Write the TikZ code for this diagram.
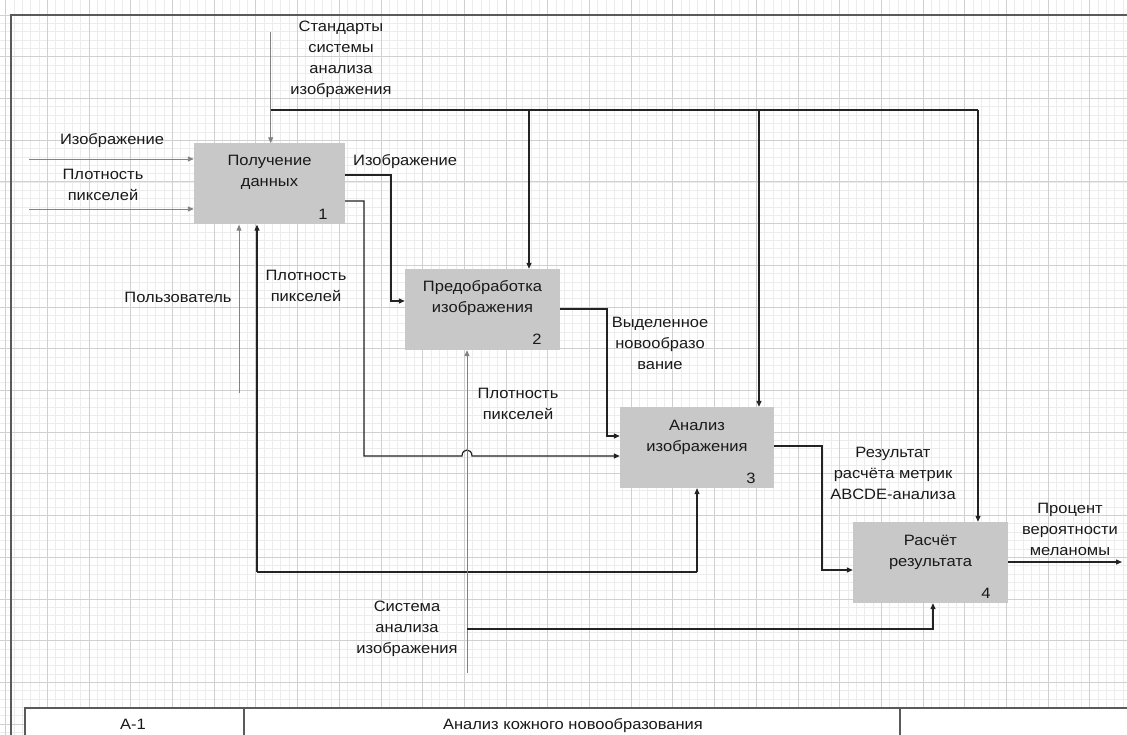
\documentclass[tikz,border=0pt]{standalone}
\usepackage{fontspec}
\setmainfont{Liberation Sans}[FakeStretch=1.1]
\usetikzlibrary{arrows.meta}

\definecolor{boxgray}{RGB}{200,200,200}
\definecolor{ink}{RGB}{25,25,25}
\definecolor{linedark}{RGB}{35,35,35}
\definecolor{linelight}{RGB}{130,130,130}
\definecolor{gridminor}{RGB}{236,236,236}
\definecolor{gridmajor}{RGB}{208,208,208}
\definecolor{framegray}{RGB}{90,90,90}

\tikzset{
  lbl/.style={font=\fontsize{15}{21}\selectfont, text=ink, align=center, inner sep=0pt},
  fnbox/.style={fill=boxgray, inner sep=0pt, minimum height=81pt},
  flow/.style={draw=linedark, line width=1.2pt},
  feed/.style={draw=linelight, line width=0.9pt},
  tip/.style={-{Triangle[length=6pt,width=5pt]}},
}

\begin{document}
\begin{tikzpicture}[x=1pt,y=-1pt]
\useasboundingbox (0,0) rectangle (1127,735);
\fill[white] (0,0) rectangle (1127,735);

% drawing grid
\foreach \i in {0,...,135} {
  \draw[gridminor, line width=0.5pt] ({5.5+\i*8.34},0) -- ({5.5+\i*8.34},735);
}
\foreach \i in {0,...,88} {
  \draw[gridminor, line width=0.5pt] (0,{15+\i*8.34}) -- (1127,{15+\i*8.34});
}
\foreach \i in {0,...,27} {
  \draw[gridmajor, line width=0.6pt] ({5.5+\i*41.7},0) -- ({5.5+\i*41.7},735);
}
\foreach \i in {0,...,17} {
  \draw[gridmajor, line width=0.6pt] (0,{15+\i*41.7}) -- (1127,{15+\i*41.7});
}

% sheet frame
\draw[framegray, line width=1.8pt] (11,735) -- (11,15) -- (1127,15);

% title block
\fill[white] (25,708) rectangle (1127,735);
\draw[framegray, line width=1.1pt] (25,735) -- (25,708) -- (1127,708);
\draw[framegray, line width=1.1pt] (244,708) -- (244,735);
\draw[framegray, line width=1.1pt] (900,708) -- (900,735);
\node[lbl, anchor=base] (tbnum) at (133,729) {A-1};
\node[lbl, anchor=base] (tbname) at (573,729) {Анализ кожного новообразования};

% function blocks
\node[fnbox, minimum width=151pt] (b1) at (269.5,184) {};
\node[fnbox, minimum width=155pt] (b2) at (482.5,309.5) {};
\node[fnbox, minimum width=154pt] (b3) at (697,447.5) {};
\node[fnbox, minimum width=155pt] (b4) at (930.5,562.5) {};

\node[lbl] (b1t) at (269.5,172) {Получение\\данных};
\node[lbl] (b2t) at (482.5,298) {Предобработка\\изображения};
\node[lbl] (b3t) at (697,437) {Анализ\\изображения};
\node[lbl] (b4t) at (930.5,552) {Расчёт\\результата};
\node[lbl] (b1n) at (323,214) {1};
\node[lbl] (b2n) at (537,339) {2};
\node[lbl] (b3n) at (751,478) {3};
\node[lbl] (b4n) at (986,593) {4};

% helper levels
\coordinate (h159) at (0,159);
\coordinate (h175) at (0,175);
\coordinate (h201) at (0,201);
\coordinate (h209) at (0,209);
\coordinate (h301) at (0,301);
\coordinate (h309) at (0,309);
\coordinate (h436) at (0,436);
\coordinate (h446) at (0,446);
\coordinate (h456) at (0,456);
\coordinate (h562) at (0,562);
\coordinate (h570) at (0,570);

% controls from the top
\coordinate (stdtop) at (270.7,32);
\coordinate (stdbus) at (270.7,110);
\coordinate (c2) at (529,110);
\coordinate (c3) at (759,110);
\coordinate (c4) at (978,110);
\draw[feed,tip] (stdtop) -- (stdtop |- b1.north);
\draw[flow] (stdbus) -- (c4);
\draw[flow,tip] (c2) -- (c2 |- b2.north);
\draw[flow,tip] (c3) -- (c3 |- b3.north);
\draw[flow,tip] (c4) -- (c4 |- b4.north);

% inputs of block 1
\coordinate (in1) at (29,159);
\coordinate (in2) at (29,209);
\draw[feed,tip] (in1) -- (b1.west |- h159);
\draw[feed,tip] (in2) -- (b1.west |- h209);

% block 1 outputs
\draw[flow,tip] (b1.east |- h175) -- (391,175) -- (391,301) -- (b2.west |- h301);
\draw[flow,tip] (b1.east |- h201) -- (364,201) -- (364,456) -- (462,456)
  .. controls (462,448) and (472,448) .. (472,456) -- (b3.west |- h456);

% block 2 output
\draw[flow,tip] (b2.east |- h309) -- (607,309) -- (607,436) -- (b3.west |- h436);

% block 3 output
\draw[flow,tip] (b3.east |- h446) -- (822,446) -- (822,570) -- (b4.west |- h570);

% final output
\coordinate (outend) at (1122,562);
\draw[flow,tip] (b4.east |- h562) -- (outend);

% pixel density feedback loop
\coordinate (fbL) at (257,572);
\coordinate (fbR) at (697,572);
\draw[flow] (fbL) -- (fbR);
\draw[flow,tip] (fbL) -- (fbL |- b1.south);
\draw[flow,tip] (fbR) -- (fbR |- b3.south);

% user mechanism
\coordinate (usr) at (239,393);
\draw[feed,tip] (usr) -- (usr |- b1.south);

% analysis system mechanism
\coordinate (mech) at (467,673);
\coordinate (mechb) at (467,629);
\coordinate (m4) at (933,629);
\draw[feed,tip] (mech) -- (mech |- b2.south);
\draw[flow,tip] (mechb) -- (m4) -- (m4 |- b4.south);

% arrow labels
\node[lbl] (lstd) at (341,59) {Стандарты\\системы\\анализа\\изображения};
\node[lbl] (lin1) at (112,141) {Изображение};
\node[lbl] (lin2) at (103,185) {Плотность\\пикселей};
\node[lbl, anchor=west] (lout1) at (353,162) {Изображение};
\node[lbl] (lusr) at (178,297) {Пользователь};
\node[lbl] (lfb) at (306,286) {Плотность\\пикселей};
\node[lbl] (lsel) at (660,343) {Выделенное\\новообразо\\вание};
\node[lbl] (lpx2) at (518,404) {Плотность\\пикселей};
\node[lbl] (lres) at (893,473) {Результат\\расчёта метрик\\ABCDE-анализа};
\node[lbl] (lpct) at (1070,529) {Процент\\вероятности\\меланомы};
\node[lbl] (lsys) at (407,629) {Система\\анализа\\изображения};
\end{tikzpicture}
\end{document}
